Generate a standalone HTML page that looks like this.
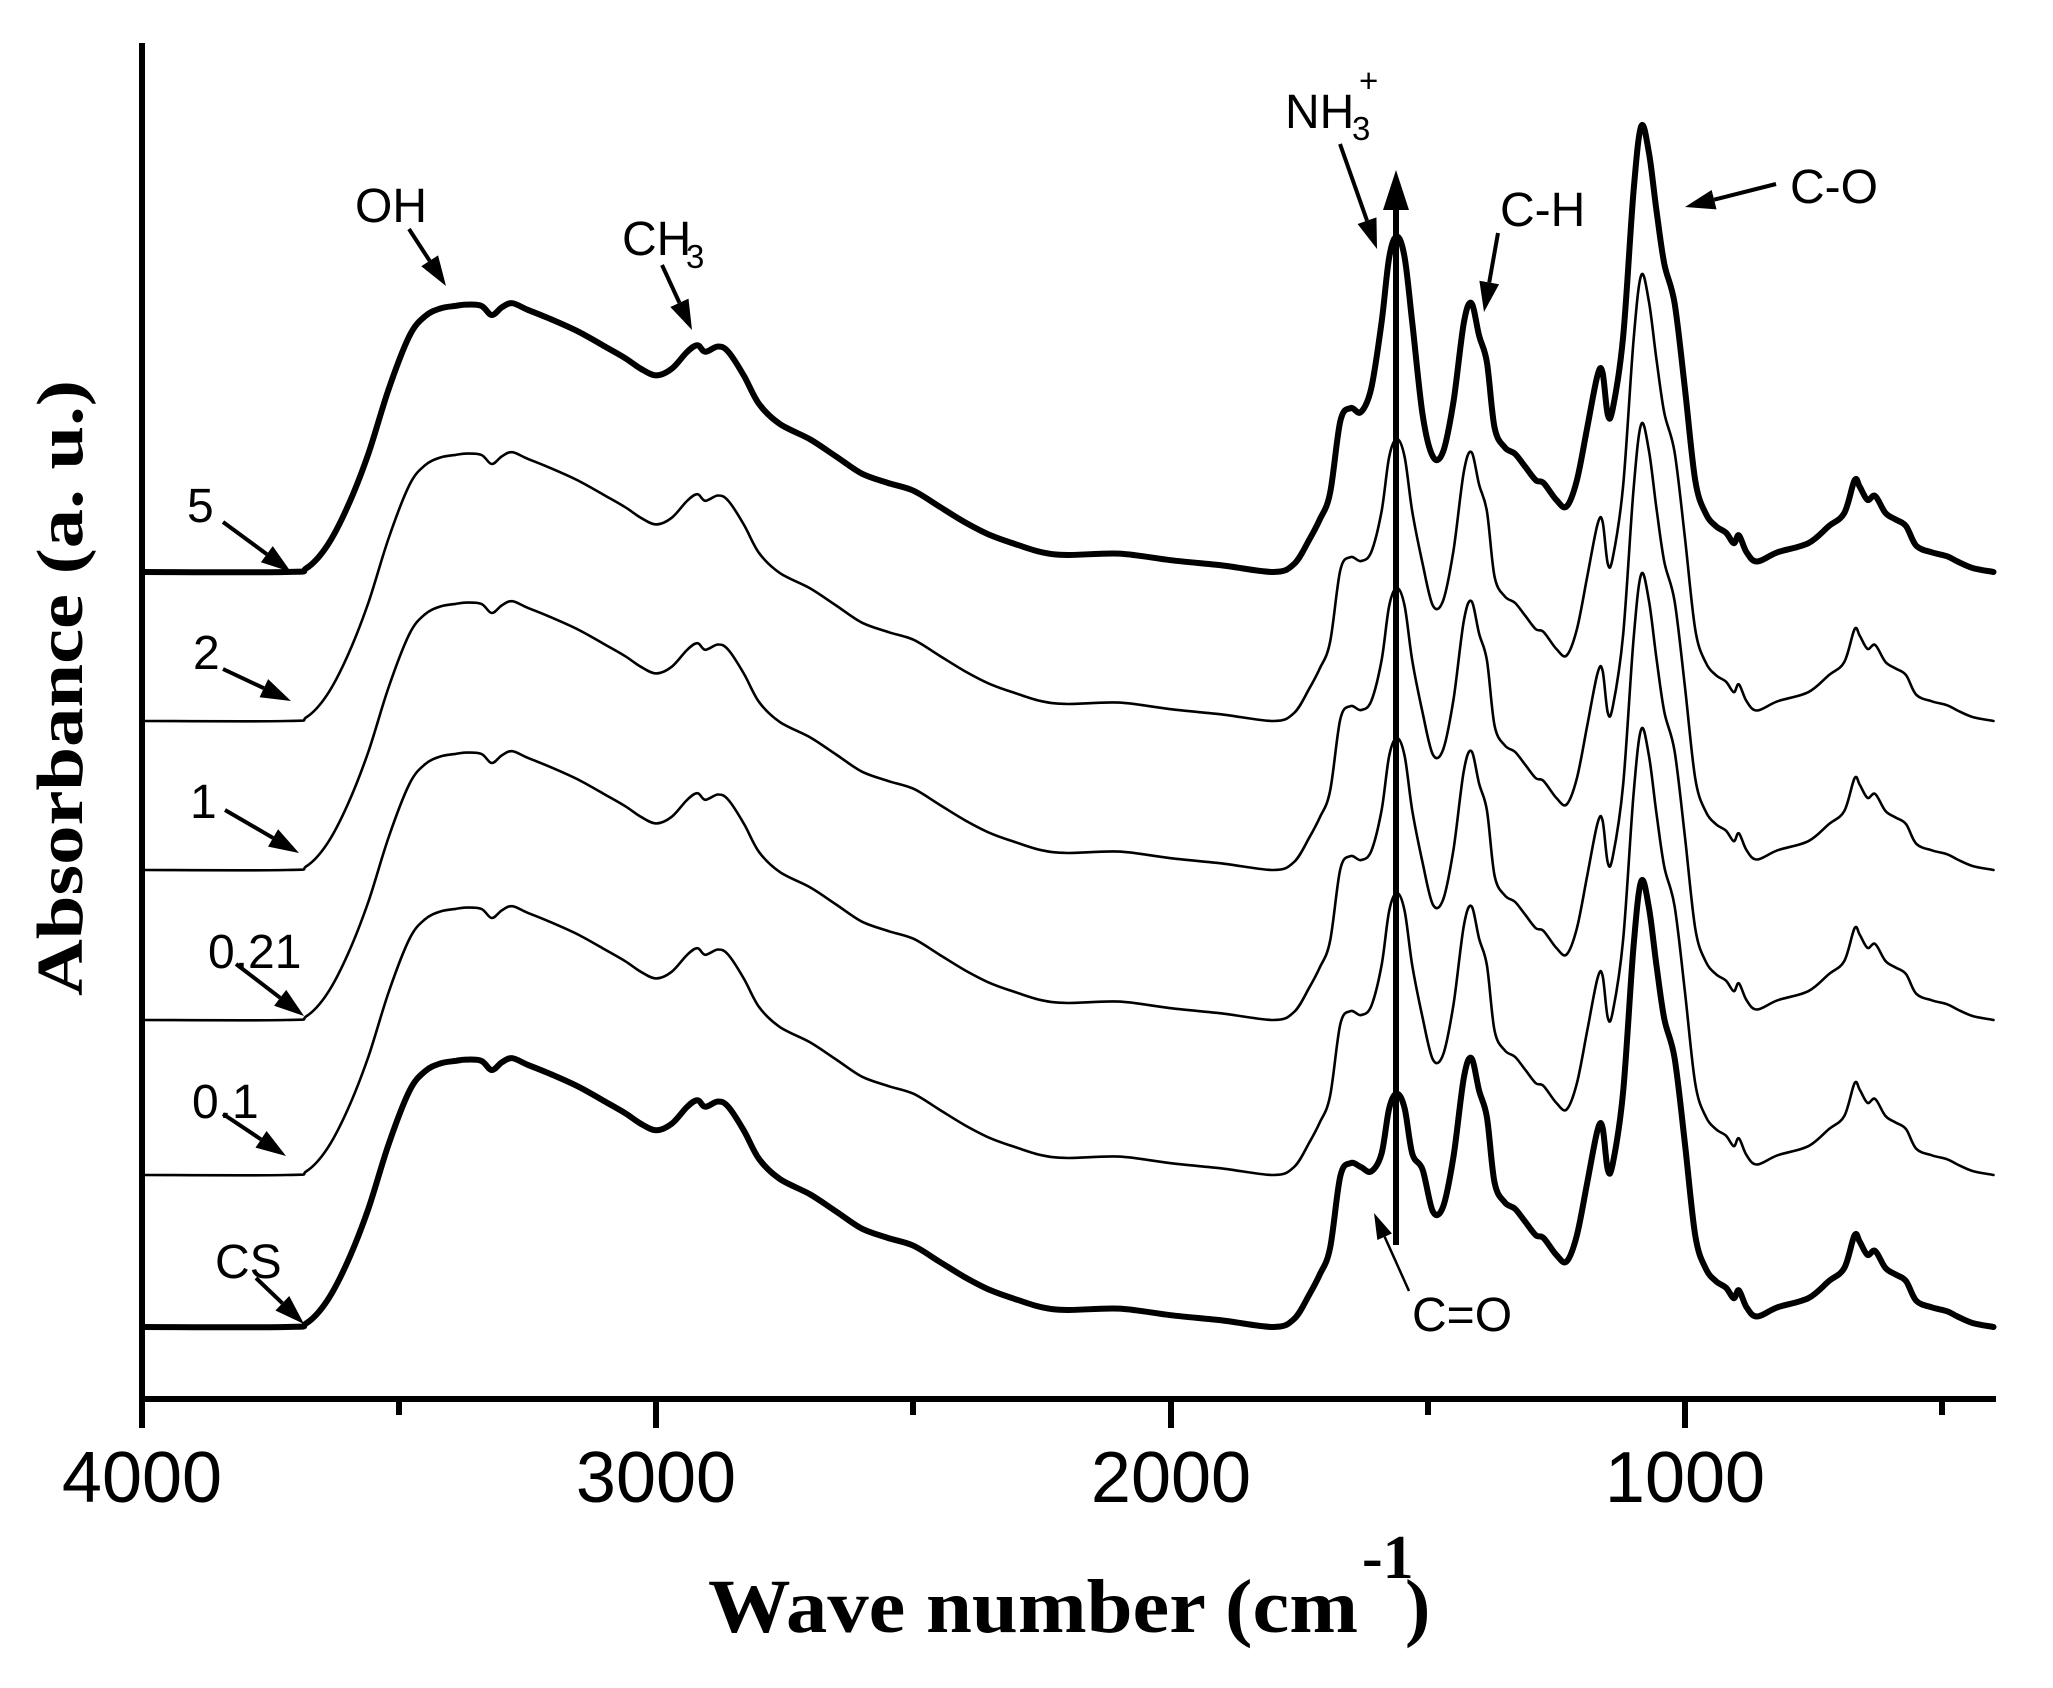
<!DOCTYPE html>
<html><head><meta charset="utf-8"><style>
html,body{margin:0;padding:0;background:#fff}
svg{display:block}
</style></head><body>
<svg id="s" width="2053" height="1688" viewBox="0 0 2053 1688" xmlns="http://www.w3.org/2000/svg">
<rect width="2053" height="1688" fill="#fff"/>
<g id="curves" fill="none" stroke="#000" stroke-linejoin="round" stroke-linecap="round"></g>
<g stroke="#000" stroke-width="6" fill="none">
<line x1="142" y1="43" x2="142" y2="1402"/>
<line x1="139" y1="1399" x2="1996" y2="1399"/>
<line x1="142" y1="1399" x2="142" y2="1428"/>
<line x1="656" y1="1399" x2="656" y2="1428"/>
<line x1="1171" y1="1399" x2="1171" y2="1428"/>
<line x1="1685" y1="1399" x2="1685" y2="1428"/>
<line x1="399" y1="1399" x2="399" y2="1415"/>
<line x1="913" y1="1399" x2="913" y2="1415"/>
<line x1="1428" y1="1399" x2="1428" y2="1415"/>
<line x1="1942" y1="1399" x2="1942" y2="1415"/>
</g>
<g font-family="Liberation Sans, sans-serif" font-size="72" text-anchor="middle" fill="#000">
<text x="142" y="1502">4000</text>
<text x="656" y="1502">3000</text>
<text x="1171" y="1502">2000</text>
<text x="1685" y="1502">1000</text>
</g>
<text x="708" y="1632" font-family="Liberation Serif, serif" font-weight="bold" font-size="76" textLength="650" lengthAdjust="spacingAndGlyphs">Wave number (cm</text>
<text x="1362" y="1578" font-family="Liberation Serif, serif" font-weight="bold" font-size="62">-1</text>
<text x="1405" y="1632" font-family="Liberation Serif, serif" font-weight="bold" font-size="76">)</text>
<text transform="translate(82,688) rotate(-90)" text-anchor="middle" font-family="Liberation Serif, serif" font-weight="bold" font-size="66" textLength="616" lengthAdjust="spacingAndGlyphs">Absorbance (a. u.)</text>
<g font-family="Liberation Sans, sans-serif" font-size="48" fill="#000">
<text x="355" y="222">OH</text>
<text x="622" y="255">CH</text><text x="686" y="268" font-size="33">3</text>
<text x="1285" y="128">NH</text><text x="1352" y="140" font-size="33">3</text><text x="1359" y="92" font-size="33">+</text>
<text x="1500" y="226">C-H</text>
<text x="1790" y="203">C-O</text>
<text x="1412" y="1331">C=O</text>
<text x="187" y="522">5</text>
<text x="193" y="669">2</text>
<text x="190" y="818">1</text>
<text x="208" y="968">0.21</text>
<text x="192" y="1118">0.1</text>
<text x="215" y="1278">CS</text>
</g>
<g id="arrows" stroke="#000" fill="#000"></g>
</svg>
<script>
var pts=[[4000,0],[3720,0],[3680,3],[3640,20],[3600,50],[3560,90],[3520,140],[3480,180],[3450,195],[3420,201],[3390,203],[3370,204],[3340,203],[3320,196],[3300,202],[3280,205],[3250,200],[3200,192],[3150,183],[3100,172],[3060,163],[3030,155],[3000,150],[2970,155],[2940,168],[2920,173],[2905,168],[2880,172],[2860,168],[2830,150],[2800,128],[2760,113],[2700,101],[2650,88],[2600,75],[2550,68],[2500,62],[2450,50],[2400,38],[2350,28],[2300,21],[2250,15],[2200,13],[2100,14],[2000,9],[1900,5],[1800,0],[1760,6],[1730,25],[1710,40],[1690,60],[1670,115],[1650,125],[1630,122],[1610,140],[1590,190],[1575,240],[1560,256],[1545,240],[1530,190],[1510,120],[1490,88],[1470,92],[1450,130],[1430,190],[1415,205],[1400,180],[1385,160],[1370,110],[1350,95],[1330,90],[1310,80],[1290,70],[1275,68],[1250,55],[1230,50],[1210,70],[1190,110],[1170,150],[1160,152],[1150,120],[1140,125],[1120,180],[1100,290],[1085,340],[1070,320],[1055,275],[1040,235],[1020,205],[1000,140],[980,70],[960,45],[940,35],[920,30],[905,22],[895,28],[880,15],[860,8],[820,15],[760,22],[720,35],[690,45],[670,70],[660,65],[645,55],[630,58],[610,45],[590,40],[570,35],[550,20],[520,15],[490,12],[470,8],[440,3],[400,0]];
function X(w){return 142+(4000-w)*0.5143;}
var curves=[[572,6,256],[721,2.6,215],[870,2.6,215],[1020,2.6,215],[1175,2.6,215],[1327,6,178]];
var g=document.getElementById('curves'),ns='http://www.w3.org/2000/svg';
curves.forEach(function(c){
 var f=c[2]/256;
 var P=pts.map(function(p){var o=p[1];
  if(p[0]>=1530&&p[0]<=1590){o=o*f;}
  else if(p[0]==1610){o=o*(1+f)/2;}
  return [X(p[0]),c[0]-o*1.311];});
 if(c[1]>3)P[0][0]=142;
 var d='M'+P[0][0].toFixed(1)+' '+P[0][1].toFixed(1);
 for(var i=0;i<P.length-1;i++){
  var p0=P[i-1]||P[i],p1=P[i],p2=P[i+1],p3=P[i+2]||P[i+1];
  var c1x=p1[0]+(p2[0]-p0[0])/6,c1y=p1[1]+(p2[1]-p0[1])/6,c2x=p2[0]-(p3[0]-p1[0])/6,c2y=p2[1]-(p3[1]-p1[1])/6;
  d+=' C'+c1x.toFixed(1)+' '+c1y.toFixed(1)+' '+c2x.toFixed(1)+' '+c2y.toFixed(1)+' '+p2[0].toFixed(1)+' '+p2[1].toFixed(1);}
 var e=document.createElementNS(ns,'path');e.setAttribute('d',d);e.setAttribute('stroke-width',c[1]);g.appendChild(e);
});
var A=document.getElementById('arrows');
function arrow(x1,y1,x2,y2,w,hl,hw){
 var dx=x2-x1,dy=y2-y1,L=Math.sqrt(dx*dx+dy*dy),ux=dx/L,uy=dy/L;
 var bx=x2-ux*hl,by=y2-uy*hl;
 var l=document.createElementNS(ns,'line');l.setAttribute('x1',x1);l.setAttribute('y1',y1);l.setAttribute('x2',bx);l.setAttribute('y2',by);l.setAttribute('stroke-width',w);A.appendChild(l);
 var pg=document.createElementNS(ns,'polygon');
 pg.setAttribute('points',x2+','+y2+' '+(bx-uy*hw)+','+(by+ux*hw)+' '+(bx+uy*hw)+','+(by-ux*hw));pg.setAttribute('stroke','none');A.appendChild(pg);}
arrow(409,229,446,286,4,30,10);
arrow(662,265,692,330,4,30,10);
arrow(223,522,291,572,4,30,10);
arrow(223,669,291,701,4,30,10);
arrow(225,810,299,853,4,30,10);
arrow(236,964,304,1016,4,30,10);
arrow(223,1114,286,1156,4,30,10);
arrow(256,1278,304,1324,4,30,10);
arrow(1340,144,1377,249,4,30,10);
arrow(1498,233,1484,312,4,30,10);
arrow(1776,184,1685,207,4,30,10);
arrow(1409,1291,1374,1213,2.5,26,8);
arrow(1396,1245,1396,170,6,40,13);
</script>
</body></html>
